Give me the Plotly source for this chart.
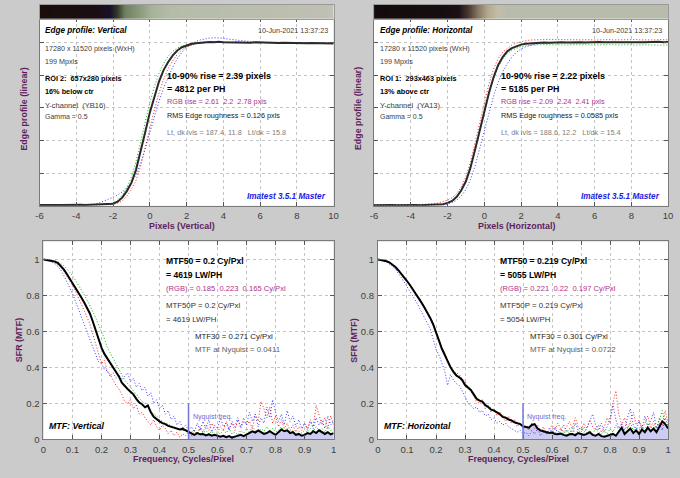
import numpy as np
import plotly.graph_objects as go

FONT = "Liberation Sans, Arial, sans-serif"
W, H = 680, 478

# ---------------- data ----------------
EDGE_X = np.round(np.arange(-6, 10.001, 0.25), 2)

EDGE_V_BLACK = [0.005,0.006,0.005,0.006,0.005,0.005,0.006,0.005,0.005,0.006,0.005,0.006,0.006,0.007,0.008,0.010,
                0.013,0.025,0.05,0.09,0.14,0.22,0.33,0.45,0.57,0.67,0.76,0.83,0.88,0.92,0.95,0.97,0.982,0.99,0.995,0.998,
                1.0,1.002,1.0,1.003,1.001,1.0,1.002,0.999,1.001,1.0,0.998,1.0,0.999,0.997,0.999,0.998,0.996,0.998,0.997,
                0.995,0.997,0.996,0.994,0.996,0.995,0.993,0.995,0.994,0.993]
EDGE_V_RED = [0.004,0.005,0.004,0.005,0.004,0.005,0.004,0.005,0.004,0.005,0.004,0.005,0.005,0.006,0.007,0.008,
              0.011,0.016,0.03,0.058,0.10,0.156,0.242,0.354,0.474,0.59,0.688,0.774,0.84,0.888,0.926,0.954,0.972,0.984,0.991,0.996,
              0.999,1.001,1.003,1.002,1.004,1.002,1.001,1.003,1.0,1.002,1.0,0.999,1.001,0.998,1.0,0.997,0.999,0.996,0.998,
              0.997,0.995,0.997,0.994,0.996,0.995,0.993,0.996,0.994,0.992]
EDGE_V_GREEN = [0.005,0.005,0.006,0.005,0.005,0.006,0.005,0.005,0.006,0.005,0.006,0.005,0.006,0.007,0.009,
                0.012,0.018,0.035,0.065,0.11,0.175,0.27,0.39,0.51,0.63,0.73,0.81,0.87,0.915,0.945,0.965,0.978,0.987,0.993,0.997,
                1.0,1.002,1.001,1.003,1.0,1.002,1.001,0.999,1.002,1.0,0.999,1.001,0.998,1.0,0.998,0.997,0.999,0.996,0.998,
                0.996,0.995,0.997,0.995,0.994,0.996,0.994,0.993,0.995,0.993,0.992]
EDGE_V_BLUE = [0.004,0.005,0.004,0.005,0.004,0.004,0.005,0.004,0.005,0.004,0.005,0.006,
               0.01,0.018,0.028,0.04,0.052,0.066,0.085,0.11,0.145,0.19,0.26,0.35,0.45,0.55,0.64,0.72,0.79,0.85,0.9,0.94,
               0.97,0.99,1.005,1.015,
               1.022,1.026,1.028,1.027,1.025,1.02,1.016,1.012,1.008,1.006,1.004,1.003,1.001,1.002,1.0,1.001,0.999,1.0,
               0.998,0.999,0.997,0.998,0.996,0.997,0.995,0.996,0.994,0.995,0.994]

EDGE_H_BLACK = [0.004,0.005,0.004,0.004,0.005,0.004,0.005,0.004,0.004,0.005,0.004,0.005,0.005,0.006,
                0.007,0.010,0.018,0.03,0.055,0.095,0.15,0.235,0.345,0.46,0.58,0.69,0.785,0.86,0.91,0.945,0.965,0.978,
                0.986,0.991,0.994,0.996,
                0.997,0.999,0.998,1.0,0.999,1.001,0.999,1.0,1.002,1.0,0.999,1.001,1.0,1.002,1.001,0.999,1.001,1.0,1.002,
                1.001,1.0,1.002,1.001,1.0,1.002,1.001,1.003,1.001,1.002]
EDGE_H_RED = [0.004,0.005,0.004,0.005,0.004,0.005,0.004,0.005,0.004,0.005,0.005,0.006,
              0.008,0.012,0.018,0.025,0.035,0.05,0.075,0.115,0.18,0.27,0.385,0.51,0.63,0.745,0.835,0.9,0.94,0.965,0.984,
              0.996,1.004,1.01,1.014,1.016,
              1.017,1.016,1.018,1.017,1.015,1.017,1.016,1.018,1.016,1.015,1.017,1.016,1.014,1.016,1.015,1.017,1.015,
              1.016,1.014,1.016,1.015,1.017,1.015,1.014,1.016,1.015,1.017,1.016,1.015]
EDGE_H_GREEN = [0.005,0.004,0.005,0.004,0.004,0.005,0.004,0.005,0.004,0.005,0.004,0.004,0.005,0.006,
                0.008,0.011,0.019,0.031,0.056,0.095,0.148,0.232,0.34,0.455,0.572,0.68,0.775,0.848,0.898,0.93,0.952,
                0.965,0.974,0.979,0.982,0.984,
                0.985,0.986,0.985,0.987,0.985,0.986,0.984,0.986,0.985,0.987,0.984,0.986,0.985,0.984,0.986,0.985,0.983,
                0.985,0.984,0.986,0.984,0.983,0.985,0.984,0.986,0.984,0.985,0.983,0.985]
EDGE_H_BLUE = [0.004,0.004,0.005,0.004,0.004,0.005,0.004,0.004,0.005,0.004,0.004,0.005,0.004,0.004,
               0.005,0.007,0.012,0.02,0.035,0.06,0.1,0.16,0.245,0.35,0.46,0.57,0.67,0.755,0.82,0.87,0.91,0.94,0.96,
               0.973,0.982,0.988,
               0.992,0.995,0.997,0.998,1.0,0.999,1.001,1.0,0.999,1.001,1.0,1.002,1.0,0.999,1.001,1.0,1.002,1.001,1.0,
               1.002,1.001,1.0,1.002,1.001,1.003,1.001,1.002,1.001,1.002]

# grey-level strip above the edge profile (image of the edge)
BAR_V_X = [-6, -2.9, -2.2, -1.8, -1.35, -0.43, 0.1, 1.2, 10]
BAR_V_LEVEL = [0, 0.02, 0.08, 0.3, 0.6, 0.75, 0.85, 0.95, 1.0]
BAR_V_COLORS = [[0, "#1a0e0c"], [0.08, "#1a1028"], [0.3, "#303828"], [0.6, "#708060"],
                [0.75, "#90a080"], [0.85, "#a8b49a"], [0.95, "#b4bca8"], [1.0, "#c0c0b4"]]
BAR_H_X = [-6, -2.5, -1.44, -0.9, -0.36, 0.17, 0.7, 1.3, 10]
BAR_H_LEVEL = [0, 0.02, 0.1, 0.3, 0.55, 0.8, 0.92, 1.0, 1.0]
BAR_H_COLORS = [[0, "#140c0c"], [0.1, "#1a1018"], [0.3, "#4a3a30"], [0.55, "#8a7a68"],
                [0.8, "#b4a88c"], [0.92, "#c2bea8"], [1.0, "#b8bcac"]]

MTF_F = np.round(np.arange(0, 1.0001, 0.01), 2)
NYQUIST = 0.5
NYQ_MARK = 0.2

MTF_V_BLACK = [1.000,0.998,0.995,0.992,0.988,0.980,0.965,0.945,0.920,0.895,
               0.870,0.845,0.818,0.790,0.762,0.733,0.700,0.655,0.605,0.555,
               0.510,0.475,0.450,0.425,0.405,0.380,0.350,0.315,0.295,0.280,
               0.265,0.250,0.225,0.205,0.195,0.178,0.188,0.150,0.125,0.110,
               0.100,0.090,0.085,0.075,0.070,0.065,0.060,0.055,0.058,0.050,
               0.042,0.030,0.025,0.035,0.028,0.030,0.022,0.028,0.020,0.025,
               0.018,0.015,0.020,0.012,0.018,0.010,0.015,0.020,0.025,0.018,
               0.028,0.035,0.045,0.038,0.050,0.040,0.030,0.035,0.045,0.035,
               0.025,0.040,0.055,0.045,0.050,0.035,0.040,0.025,0.030,0.020,
               0.025,0.035,0.030,0.045,0.035,0.050,0.040,0.030,0.040,0.028,0.035]
MTF_V_RED = [1.0,0.998,0.995,0.99,0.982,0.97,0.955,0.935,0.91,0.885,
             0.855,0.825,0.79,0.755,0.72,0.68,0.64,0.585,0.54,0.48,
             0.42,0.44,0.38,0.36,0.33,0.3,0.28,0.25,0.21,0.2,
             0.22,0.17,0.19,0.14,0.15,0.12,0.1,0.08,0.11,0.07,
             0.05,0.08,0.06,0.03,0.05,0.02,0.04,0.01,0.03,0.02,
             0.04,0.02,0.05,0.03,0.07,0.04,0.08,0.05,0.09,0.06,
             0.04,0.07,0.05,0.1,0.06,0.09,0.05,0.11,0.07,0.12,
             0.08,0.1,0.06,0.14,0.1,0.21,0.17,0.12,0.18,0.09,
             0.13,0.07,0.11,0.06,0.09,0.05,0.08,0.04,0.07,0.05,
             0.09,0.06,0.11,0.07,0.19,0.14,0.08,0.12,0.06,0.13,0.08]
MTF_V_GREEN = [1.0,0.999,0.997,0.995,0.992,0.987,0.978,0.965,0.948,0.93,
               0.91,0.885,0.86,0.835,0.805,0.775,0.745,0.71,0.675,0.64,
               0.6,0.56,0.51,0.48,0.45,0.42,0.39,0.36,0.33,0.31,
               0.29,0.27,0.25,0.23,0.21,0.2,0.18,0.16,0.14,0.13,
               0.11,0.1,0.09,0.085,0.075,0.07,0.06,0.058,0.05,0.052,
               0.045,0.04,0.05,0.03,0.06,0.035,0.05,0.03,0.045,0.025,
               0.04,0.03,0.05,0.035,0.06,0.03,0.04,0.025,0.05,0.035,
               0.06,0.04,0.07,0.05,0.04,0.06,0.045,0.07,0.05,0.06,
               0.04,0.05,0.07,0.04,0.06,0.035,0.05,0.03,0.045,0.035,
               0.05,0.04,0.06,0.045,0.07,0.05,0.06,0.04,0.07,0.05,0.06]
MTF_V_BLUE = [1.0,0.997,0.993,0.985,0.975,0.96,0.94,0.91,0.88,0.845,
              0.81,0.77,0.73,0.69,0.645,0.6,0.555,0.51,0.47,0.43,
              0.42,0.39,0.38,0.35,0.37,0.34,0.36,0.33,0.35,0.37,
              0.32,0.34,0.29,0.31,0.27,0.29,0.24,0.26,0.2,0.22,
              0.17,0.19,0.14,0.16,0.11,0.13,0.08,0.1,0.06,0.08,
              0.05,0.07,0.04,0.09,0.05,0.1,0.06,0.11,0.04,0.08,
              0.06,0.12,0.07,0.09,0.05,0.1,0.07,0.12,0.06,0.1,
              0.08,0.15,0.1,0.14,0.07,0.12,0.09,0.18,0.12,0.22,
              0.15,0.1,0.14,0.08,0.16,0.1,0.13,0.07,0.11,0.06,
              0.09,0.05,0.1,0.06,0.12,0.08,0.11,0.06,0.13,0.08,0.1]

MTF_H_BLACK = [1.0,0.998,0.994,0.99,0.983,0.972,0.958,0.94,0.922,0.902,
               0.88,0.858,0.835,0.81,0.785,0.76,0.733,0.705,0.675,0.64,
               0.6,0.55,0.505,0.47,0.43,0.4,0.375,0.355,0.345,0.33,
               0.302,0.29,0.275,0.25,0.225,0.215,0.21,0.19,0.18,0.165,
               0.16,0.15,0.14,0.125,0.12,0.11,0.105,0.095,0.09,0.085,
               0.072,0.07,0.065,0.08,0.085,0.06,0.05,0.045,0.04,0.035,
               0.038,0.03,0.028,0.032,0.025,0.02,0.028,0.03,0.022,0.035,
               0.03,0.025,0.03,0.04,0.025,0.02,0.03,0.018,0.015,0.02,
               0.025,0.03,0.02,0.04,0.065,0.03,0.045,0.06,0.035,0.05,
               0.03,0.055,0.04,0.065,0.045,0.06,0.04,0.07,0.1,0.085,0.06]
MTF_H_RED = [1.0,0.998,0.995,0.99,0.984,0.974,0.96,0.943,0.925,0.905,
             0.884,0.862,0.84,0.815,0.79,0.765,0.738,0.71,0.68,0.645,
             0.605,0.56,0.51,0.48,0.44,0.41,0.38,0.37,0.36,0.34,
             0.32,0.29,0.27,0.24,0.21,0.2,0.22,0.17,0.19,0.15,
             0.17,0.13,0.15,0.12,0.1,0.13,0.09,0.11,0.07,0.09,
             0.06,0.08,0.05,0.09,0.06,0.08,0.04,0.07,0.03,0.05,
             0.08,0.05,0.09,0.06,0.04,0.07,0.1,0.06,0.12,0.07,
             0.05,0.09,0.06,0.11,0.07,0.05,0.08,0.04,0.07,0.12,
             0.09,0.2,0.27,0.14,0.08,0.12,0.06,0.1,0.15,0.08,
             0.11,0.06,0.09,0.13,0.07,0.1,0.06,0.12,0.08,0.16,0.09]
MTF_H_GREEN = [1.0,0.998,0.994,0.99,0.983,0.973,0.959,0.942,0.924,0.904,
               0.882,0.86,0.837,0.812,0.787,0.762,0.735,0.707,0.677,0.643,
               0.603,0.555,0.505,0.472,0.435,0.405,0.38,0.36,0.35,0.335,
               0.31,0.295,0.28,0.255,0.23,0.22,0.212,0.195,0.183,0.17,
               0.163,0.152,0.143,0.13,0.123,0.113,0.108,0.098,0.093,0.088,
               0.075,0.072,0.07,0.085,0.08,0.065,0.055,0.05,0.045,0.04,
               0.05,0.035,0.04,0.06,0.03,0.05,0.035,0.06,0.03,0.05,
               0.04,0.07,0.035,0.05,0.03,0.06,0.04,0.03,0.05,0.03,
               0.06,0.04,0.08,0.05,0.07,0.04,0.06,0.09,0.05,0.07,
               0.04,0.08,0.05,0.09,0.06,0.08,0.05,0.11,0.16,0.09,0.07]
MTF_H_BLUE = [1.0,0.997,0.992,0.985,0.975,0.962,0.945,0.925,0.9,0.875,
              0.85,0.825,0.8,0.77,0.74,0.71,0.68,0.65,0.615,0.56,
              0.5,0.47,0.42,0.38,0.3,0.36,0.33,0.31,0.3,0.27,
              0.24,0.2,0.19,0.17,0.18,0.15,0.16,0.13,0.14,0.11,
              0.12,0.09,0.1,0.08,0.09,0.07,0.06,0.05,0.04,0.05,
              0.03,0.04,0.02,0.05,0.03,0.06,0.02,0.04,0.03,0.06,
              0.04,0.07,0.03,0.05,0.08,0.04,0.06,0.03,0.09,0.05,
              0.07,0.04,0.06,0.1,0.14,0.08,0.05,0.09,0.04,0.07,
              0.12,0.19,0.11,0.06,0.09,0.05,0.12,0.17,0.08,0.05,
              0.1,0.06,0.13,0.07,0.1,0.15,0.06,0.09,0.05,0.12,0.07]

EDGE_X_TICKS = [-6, -4, -2, 0, 2, 4, 6, 8, 10]
EDGE_X_LABELS = ["-6", "-4", "-2", "0", "2", "4", "6", "8", "10"]
EDGE_Y_TICKS = [0, 0.2, 0.4, 0.6, 0.8, 1.0]
MTF_X_TICKS = [0, 0.1, 0.2, 0.3, 0.4, 0.5, 0.6, 0.7, 0.8, 0.9, 1]
MTF_Y_TICKS = [0, 0.2, 0.4, 0.6, 0.8, 1]

# ---------------- styles ----------------
C_RED, C_GREEN, C_BLUE = "#ff2020", "#10b010", "#3a3aff"
DOT = "1px,2px"
PURPLE = "#5e1e60"
MAGENTA = "#b0308a"

fig = go.Figure()

def add_edge(xa, ya, red, green, blue, black):
    for vals, col in ((red, C_RED), (green, C_GREEN), (blue, C_BLUE)):
        fig.add_trace(go.Scatter(x=EDGE_X, y=vals, mode="lines", xaxis=xa, yaxis=ya,
                                 line=dict(color=col, width=1, dash=DOT), hoverinfo="skip"))
    fig.add_trace(go.Scatter(x=EDGE_X, y=black, mode="lines", xaxis=xa, yaxis=ya,
                             line=dict(color="#2a2a2a", width=2), hoverinfo="skip"))

def add_mtf(xa, ya, red, green, blue, black):
    i0 = int(np.argmin(np.abs(MTF_F - NYQUIST)))
    fig.add_trace(go.Scatter(x=MTF_F[i0:], y=black[i0:], mode="lines", xaxis=xa, yaxis=ya,
                             fill="tozeroy", fillcolor="#cdcdf4", line=dict(width=0),
                             hoverinfo="skip"))
    for vals, col in ((red, C_RED), (green, C_GREEN), (blue, C_BLUE)):
        fig.add_trace(go.Scatter(x=MTF_F, y=vals, mode="lines", xaxis=xa, yaxis=ya,
                                 line=dict(color=col, width=1, dash=DOT), hoverinfo="skip"))
    fig.add_trace(go.Scatter(x=MTF_F, y=black, mode="lines", xaxis=xa, yaxis=ya,
                             line=dict(color="#000000", width=2), hoverinfo="skip"))

def add_bar(xa, ya, bx, lv, cs):
    fig.add_trace(go.Heatmap(x=bx, y=[0, 1], z=[lv, lv], colorscale=cs, zmin=0, zmax=1,
                             showscale=False, zsmooth="best", xaxis=xa, yaxis=ya,
                             hoverinfo="skip"))

add_edge("x", "y", EDGE_V_RED, EDGE_V_GREEN, EDGE_V_BLUE, EDGE_V_BLACK)
add_edge("x2", "y2", EDGE_H_RED, EDGE_H_GREEN, EDGE_H_BLUE, EDGE_H_BLACK)
add_mtf("x3", "y3", MTF_V_RED, MTF_V_GREEN, MTF_V_BLUE, MTF_V_BLACK)
add_mtf("x4", "y4", MTF_H_RED, MTF_H_GREEN, MTF_H_BLUE, MTF_H_BLACK)
add_bar("x5", "y5", BAR_V_X, BAR_V_LEVEL, BAR_V_COLORS)
add_bar("x6", "y6", BAR_H_X, BAR_H_LEVEL, BAR_H_COLORS)

def px(x): return x / W
def py(y): return 1 - y / H

base = dict(showline=True, linecolor="#7a7a7a", linewidth=1, mirror="ticks",
            ticks="inside", ticklen=4, tickcolor="#555555", showgrid=True,
            gridcolor="#c4c4c4", griddash="dot", gridwidth=1, zeroline=False,
            ticklabeloverflow="allow", ticklabelstandoff=1,
            tickfont=dict(size=9.5, color="#404040", family=FONT), fixedrange=True)

def xa(dom, anchor, rng, ticks, labels=None):
    d = dict(base); d.update(domain=dom, anchor=anchor, range=rng, tickvals=ticks)
    if labels: d.update(ticktext=labels)
    return d

def ya(dom, anchor, rng, ticks, labels):
    d = dict(base); d.update(domain=dom, anchor=anchor, range=rng, tickvals=ticks,
                             showticklabels=labels); return d

bar_ax = dict(showline=True, linecolor="#9a9a9a", linewidth=1, mirror=True, ticks="",
              showticklabels=False, showgrid=False, zeroline=False, fixedrange=True)

TOP = [py(208), py(18)]
BOT = [py(444), py(244)]
fig.update_layout(
    width=W, height=H, margin=dict(l=0, r=0, t=0, b=0),
    paper_bgcolor="#cbcbcb", plot_bgcolor="#ffffff", showlegend=False,
    font=dict(family=FONT),
    xaxis=xa([px(36), px(334)], "y", [-6, 10], EDGE_X_TICKS, EDGE_X_LABELS),
    yaxis=ya(TOP, "x", [0, 1.15], EDGE_Y_TICKS, False),
    xaxis2=xa([px(375), px(673)], "y2", [-6, 10], EDGE_X_TICKS, EDGE_X_LABELS),
    yaxis2=ya(TOP, "x2", [0, 1.15], EDGE_Y_TICKS, False),
    xaxis3=xa([px(40), px(334)], "y3", [0, 1], MTF_X_TICKS),
    yaxis3=ya(BOT, "x3", [0, 1.1], MTF_Y_TICKS, True),
    xaxis4=xa([px(379), px(673)], "y4", [0, 1], MTF_X_TICKS),
    yaxis4=ya(BOT, "x4", [0, 1.1], MTF_Y_TICKS, True),
    xaxis5=dict(bar_ax, domain=[px(36), px(334)], anchor="y5", range=[-6, 10]),
    yaxis5=dict(bar_ax, domain=[py(19), py(5)], anchor="x5", range=[0, 1]),
    xaxis6=dict(bar_ax, domain=[px(375), px(673)], anchor="y6", range=[-6, 10]),
    yaxis6=dict(bar_ax, domain=[py(19), py(5)], anchor="x6", range=[0, 1]),
)

# Nyquist markers
for xr, yr in (("x3", "y3"), ("x4", "y4")):
    fig.add_shape(type="line", xref=xr, yref=yr, x0=NYQUIST, x1=NYQUIST, y0=0, y1=NYQ_MARK,
                  line=dict(color="#7474d8", width=1.5))

anns = []
def ann(x, y, text, size, color, bold=False, italic=False, anchor="left", angle=0):
    t = text.replace("  ", "\u00a0\u00a0")
    if bold: t = f"<b>{t}</b>"
    if italic: t = f"<i>{t}</i>"
    anns.append(dict(x=px(x), y=py(y), xref="paper", yref="paper", text=t, showarrow=False,
                     xanchor=anchor, yanchor="middle", textangle=angle, borderpad=0,
                     font=dict(size=size, color=color, family=FONT)))

EDGE_TEXT = [
    ("Vertical", "ROI 2:  657x280 pixels", "16% below ctr", "Y-channel  (YB16)",
     "10-90% rise = 2.39 pixels", "= 4812 per PH", "RGB rise = 2.61  2.2  2.78 pxls",
     "RMS Edge roughness = 0.126 pxls", "Lt, dk lvls = 187.4, 11.8   Lt/dk = 15.8"),
    ("Horizontal", "ROI 1:  293x463 pixels", "13% above ctr", "Y-channel  (YA13)",
     "10-90% rise = 2.22 pixels", "= 5185 per PH", "RGB rise = 2.09  2.24  2.41 pxls",
     "RMS Edge roughness = 0.0585 pxls", "Lt, dk lvls = 188.6, 12.2   Lt/dk = 15.4"),
]
MTF_TEXT = [
    ("Vertical", "MTF50 = 0.2 Cy/Pxl", "= 4619 LW/PH", "(RGB) = 0.185  0.223  0.165 Cy/Pxl",
     "MTF50P = 0.2 Cy/Pxl", "= 4619 LW/PH", "MTF30 = 0.271 Cy/Pxl", "MTF at Nyquist = 0.0411"),
    ("Horizontal", "MTF50 = 0.219 Cy/Pxl", "= 5055 LW/PH", "(RGB) = 0.221  0.22  0.197 Cy/Pxl",
     "MTF50P = 0.219 Cy/Pxl", "= 5054 LW/PH", "MTF30 = 0.301 Cy/Pxl", "MTF at Nyquist = 0.0722"),
]

for k, (d, e, m) in enumerate(zip((0, 339), EDGE_TEXT, MTF_TEXT)):
    ann(41 + d, 31, f"Edge profile: {e[0]}", 8.2, "#000000", bold=True, italic=True)
    ann(329 + d, 31, "10-Jun-2021 13:37:23", 7.2, "#404040", anchor="right")
    ann(41 + d, 49, "17280 x 11520 pixels (WxH)", 7.2, "#404040")
    ann(41 + d, 62, "199 Mpxls", 7.2, "#404040")
    ann(41 + d, 79, e[1], 7.3, "#000000", bold=True)
    ann(41 + d, 92, e[2], 7.3, "#000000", bold=True)
    ann(41 + d, 107, e[3], 7.5, "#404040")
    ann(41 + d, 118, "Gamma = 0.5", 7.0, "#404040")
    ann(164 + d, 77, e[4], 8.9, "#000000", bold=True)
    ann(164 + d, 90, e[5], 8.9, "#000000", bold=True)
    ann(164 + d, 103, e[6], 7.3, MAGENTA)
    ann(164 + d, 117, e[7], 7.3, "#202020")
    ann(164 + d, 134, e[8], 7.3, "#808080")
    ann(327 + d, 199, "Imatest 3.5.1 Master", 8.2, "#1a1ae6", bold=True, italic=True, anchor="right")
    ann(180 + d, 228, f"Pixels ({e[0]})", 8.9, PURPLE, bold=True, anchor="center")
    ann(20 + d, 110, "Edge profile (linear)", 8.9, PURPLE, bold=True, anchor="center", angle=-90)

    ann(163 + d, 264, m[1], 8.6, "#000000", bold=True)
    ann(163 + d, 278, m[2], 8.6, "#000000", bold=True)
    ann(163 + d, 292, m[3], 7.6, MAGENTA)
    ann(163 + d, 309, m[4], 7.8, "#303030")
    ann(163 + d, 323, m[5], 7.8, "#303030")
    ann(193 + d, 340, m[6], 7.8, "#202020")
    ann(193 + d, 353, m[7], 7.8, "#606060")
    ann(45 + d, 431, f"MTF: {m[0]}", 8.8, "#000000", bold=True, italic=True)
    ann(182 + d, 464, "Frequency, Cycles/Pixel", 8.9, PURPLE, bold=True, anchor="center")
    ann(16 + d, 344, "SFR (MTF)", 8.9, PURPLE, bold=True, anchor="center", angle=-90)
    anns.append(dict(x=NYQUIST, y=NYQ_MARK * 0.62, xref=("x3", "x4")[k], yref=("y3", "y4")[k],
                     text="Nyquist freq.", showarrow=False, xanchor="left", yanchor="middle",
                     xshift=2, font=dict(size=7, color="#6a6ad2", family=FONT)))

fig.update_layout(annotations=anns)
fig.write_html("out.html", config={"displayModeBar": False},
               post_script="document.body.style.margin='0';document.body.style.overflow='hidden';")
